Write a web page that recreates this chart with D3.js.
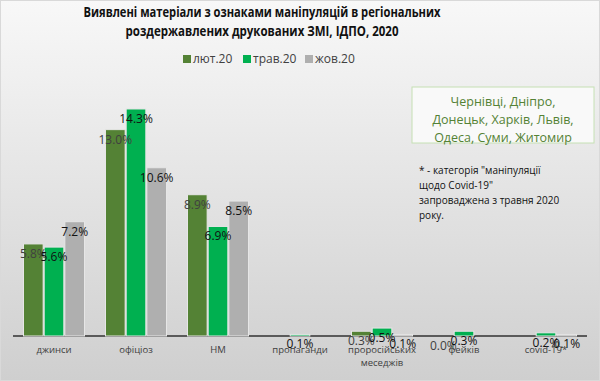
<!DOCTYPE html>
<html>
<head>
<meta charset="utf-8">
<script src="https://cdn.jsdelivr.net/npm/d3@7"></script>
<style>
  html, body { margin: 0; padding: 0; background: #fff; }
  svg { display: block; font-family: 'Open Sans', sans-serif; }
</style>
</head>
<body>
<div id="chart"></div>
<script>
const categories = ['джинси', 'офіціоз', 'НМ', 'пропаганди', 'проросійських меседжів', 'фейків', 'covid-19*'];
const series = ['лют.20', 'трав.20', 'жов.20'];
const feb20 = [5.8, 13.0, 8.9, null, 0.3, 0.0, null];
const may20 = [5.6, 14.3, 6.9, 0.1, 0.5, 0.3, 0.2];
const oct20 = [7.2, 10.6, 8.5, null, 0.1, null, 0.1];
const titleLines = ['Виявлені матеріали з ознаками маніпуляцій в регіональних', 'роздержавлених друкованих ЗМІ, ІДПО, 2020'];
const boxLines = ['Чернівці, Дніпро,', 'Донецьк, Харків, Львів,', 'Одеса, Суми, Житомир'];
const noteLines = ['* - категорія "маніпуляції', 'щодо Covid-19"', 'запроваджена з травня 2020', 'року.'];

const W = 600, H = 381;
const COLORS = { 'лют.20': '#548235', 'трав.20': '#00b050', 'жов.20': '#afafaf' };
const LABEL_FILL = { 'лют.20': '#404040', 'трав.20': '#111', 'жов.20': '#111' };

const svg = d3.select('#chart').append('svg')
  .attr('width', W).attr('height', H).attr('viewBox', `0 0 ${W} ${H}`);

const grad = svg.append('defs').append('linearGradient')
  .attr('id', 'bg').attr('x1', 0).attr('y1', 0).attr('x2', 0).attr('y2', 1);
grad.append('stop').attr('offset', '0%').attr('stop-color', '#f8f8f8');
grad.append('stop').attr('offset', '100%').attr('stop-color', '#cfcfcf');

svg.append('rect')
  .attr('x', 0.5).attr('y', 0.5).attr('width', W - 1).attr('height', H - 1)
  .attr('fill', 'url(#bg)').attr('stroke', '#d9d9d9');

// title
svg.append('g').selectAll('text')
  .data(titleLines)
  .join('text')
  .attr('x', 262)
  .attr('y', (d, i) => 17 + i * 19)
  .attr('text-anchor', 'middle')
  .attr('font-size', '14px')
  .attr('font-weight', 'bold')
  .attr('fill', '#111')
  .attr('textLength', (d, i) => i === 0 ? 357 : 273)
  .attr('lengthAdjust', 'spacingAndGlyphs')
  .text((d) => d);

// legend
const legendX = [183, 243, 305];
const legend = svg.append('g').selectAll('g')
  .data(series)
  .join('g')
  .attr('transform', (d, i) => `translate(${legendX[i]},62)`);
legend.append('rect')
  .attr('x', 0).attr('y', -7).attr('width', 8).attr('height', 8)
  .attr('fill', (d) => COLORS[d]);
legend.append('text')
  .attr('x', 10).attr('y', 1)
  .attr('font-size', '12px')
  .attr('fill', '#404040')
  .text((d) => d);

// scales
const x = d3.scaleBand().domain(categories).range([13, 587]);
const xs = d3.scaleBand().domain(series).range([10.5, 71.5]).paddingInner(0.05);
const y = d3.scaleLinear().domain([0, 16]).range([336, 82]);

// axis line
svg.append('line')
  .attr('x1', 13).attr('x2', 587)
  .attr('y1', y(0)).attr('y2', y(0))
  .attr('stroke', '#5a5a5a').attr('stroke-width', 2);

const seriesValues = { 'лют.20': feb20, 'трав.20': may20, 'жов.20': oct20 };
const bars = [];
series.forEach((s) => {
  seriesValues[s].forEach((v, i) => {
    if (v !== null) bars.push({ series: s, cat: categories[i], value: v });
  });
});

svg.append('g').selectAll('rect')
  .data(bars)
  .join('rect')
  .attr('x', (d) => x(d.cat) + xs(d.series))
  .attr('width', xs.bandwidth())
  .attr('y', (d) => y(d.value))
  .attr('height', (d) => y(0) - y(d.value))
  .attr('fill', (d) => COLORS[d.series])
  .attr('stroke', '#e6e6e6')
  .attr('stroke-width', 1);

svg.append('g').selectAll('text')
  .data(bars)
  .join('text')
  .attr('x', (d) => x(d.cat) + xs(d.series) + xs.bandwidth() / 2)
  .attr('y', (d) => y(d.value) + 14)
  .attr('text-anchor', 'middle')
  .attr('font-size', '12px')
  .attr('fill', (d) => LABEL_FILL[d.series])
  .text((d) => d.value.toFixed(1) + '%');

// category labels
const catLabels = svg.append('g').selectAll('text')
  .data(categories)
  .join('text')
  .attr('x', (d) => x(d) + x.bandwidth() / 2)
  .attr('y', 353)
  .attr('text-anchor', 'middle')
  .attr('font-size', '9.5px')
  .attr('fill', '#404040');
catLabels.each(function (d) {
  const words = d === 'проросійських меседжів' ? d.split(' ') : [d];
  d3.select(this).selectAll('tspan')
    .data(words)
    .join('tspan')
    .attr('x', x(d) + x.bandwidth() / 2)
    .attr('dy', (w, i) => i === 0 ? 0 : 13)
    .text((w) => w);
});

// region box
svg.append('rect')
  .attr('x', 412).attr('y', 87).attr('width', 182).attr('height', 56)
  .attr('fill', '#f9f9f9').attr('stroke', '#c5e0b4').attr('stroke-width', 1);
svg.append('g').selectAll('text')
  .data(boxLines)
  .join('text')
  .attr('x', 503)
  .attr('y', (d, i) => 106 + i * 18)
  .attr('text-anchor', 'middle')
  .attr('font-size', '12.5px')
  .attr('fill', '#548235')
  .text((d) => d);

// note
svg.append('g').selectAll('text')
  .data(noteLines)
  .join('text')
  .attr('x', 419)
  .attr('y', (d, i) => 174 + i * 15)
  .attr('font-size', '10px')
  .attr('fill', '#111')
  .text((d) => d);
</script>
</body>
</html>
